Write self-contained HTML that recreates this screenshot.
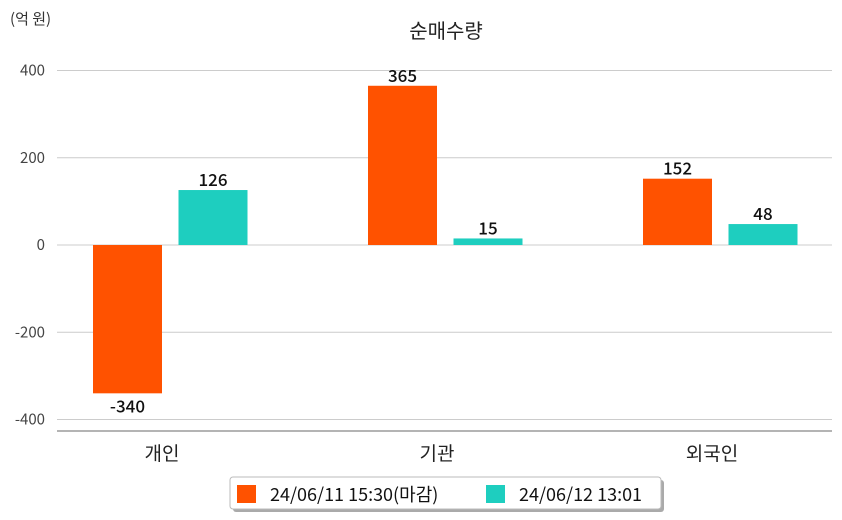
<!DOCTYPE html>
<html><head><meta charset="utf-8">
<style>
body{margin:0;background:#fff;}
svg{display:block;font-family:"Noto Sans CJK KR","Liberation Sans",sans-serif;}
</style></head>
<body>
<svg id="chart" width="842" height="520" viewBox="0 0 842 520">
<text x="10" y="24" font-size="15" fill="#333">(억 원)</text>
<text x="446" y="38" font-size="20" fill="#222" text-anchor="middle">순매수량</text>
<g id="grid"></g>
<g id="bars"></g>
<line x1="57" y1="431" x2="832" y2="431" stroke="#888" stroke-width="1.2"/>
<g>
<rect x="233" y="480" width="431" height="32" fill="#aaa" rx="3"/>
<rect x="230" y="477" width="431" height="32" fill="#fff" stroke="#bbb" rx="3"/>
<rect x="237" y="485" width="19" height="18" fill="#ff5200"/>
<text x="270" y="501" font-size="18" fill="#111">24/06/11 15:30(마감)</text>
<rect x="486" y="485" width="19" height="18" fill="#1ecebf"/>
<text x="519" y="501" font-size="18" fill="#111">24/06/12 13:01</text>
</g>
</svg>
<script>
const categories = ["개인","기관","외국인"];
const seriesA = [-340, 365, 152];
const seriesB = [126, 15, 48];
const ticks = [400, 200, 0, -200, -400];
const NS = "http://www.w3.org/2000/svg";
const x0 = 57, x1 = 832, y0 = 245, k = 174.5/400;
const y = v => y0 - v*k;
const band = 275, first = 170;
const cx = i => first + band*i;
const grid = document.getElementById("grid"), bars = document.getElementById("bars");
function mk(tag, attrs, parent, txt){const e=document.createElementNS(NS,tag);for(const a in attrs)e.setAttribute(a,attrs[a]);if(txt!==undefined)e.textContent=txt;parent.appendChild(e);return e;}
ticks.forEach(t=>{
  const l = mk("line",{x1:x0,x2:x1,y1:y(t),y2:y(t),stroke:"#ccc","stroke-width":1},grid);
  
  
  const tx = mk("text",{x:45,y:y(t)+5,"font-size":15,fill:"#444","text-anchor":"end"},grid,String(t));
  
  
});
const bw = 69;
function bar(v, xc, color){
  const top = Math.min(y(v), y0), h = Math.abs(y(v)-y0);
  const r = mk("rect",{x:xc-bw/2,y:top,width:bw,height:h,fill:color},bars);
  
  
  const ly = v>=0 ? y(v)-4 : y(v)+19;
  const t = mk("text",{x:xc,y:ly,"font-size":17,fill:"#111","text-anchor":"middle","font-weight":"500"},bars,String(v));
  
  
}
categories.forEach((c,i)=>{
  bar(seriesA[i], cx(i)-42.5, "#ff5200");
  bar(seriesB[i], cx(i)+43, "#1ecebf");
  const t = mk("text",{x:cx(i)-8,y:460,"font-size":19,fill:"#222","text-anchor":"middle"},bars,c);
  
  
});
</script>
</body></html>
